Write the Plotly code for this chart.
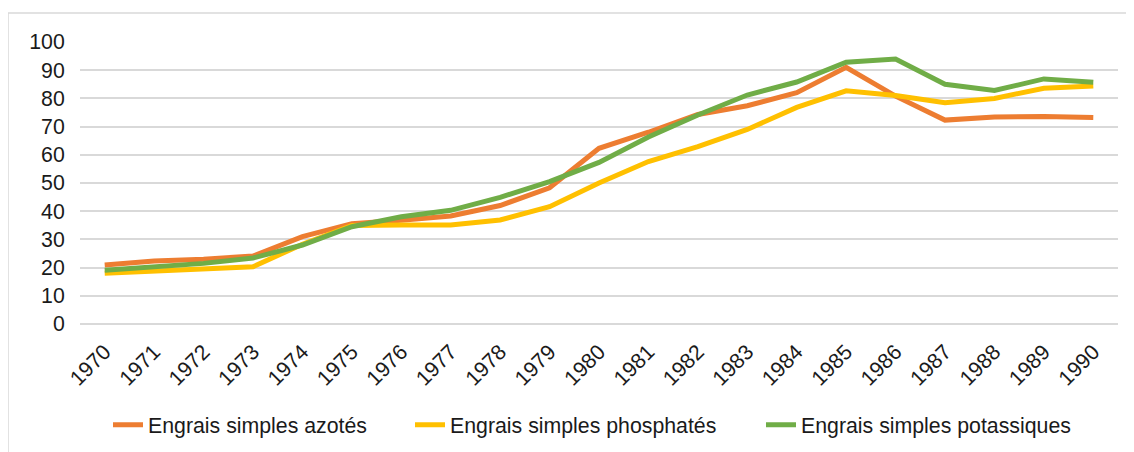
import plotly.graph_objects as go

years = [str(y) for y in range(1970, 1991)]
azotes = [20.9, 22.3, 23.0, 24.1, 31.0, 35.6, 36.8, 38.3, 42.0, 48.3, 62.3, 68.0, 74.3, 77.4, 82.0, 91.0, 80.8, 72.3, 73.4, 73.6, 73.2]
phosphates = [18.0, 18.8, 19.5, 20.3, 28.3, 34.9, 35.1, 35.1, 36.9, 41.6, 50.0, 57.6, 62.9, 69.0, 76.8, 82.7, 81.0, 78.5, 80.0, 83.6, 84.4]
potassiques = [19.1, 20.3, 21.5, 23.4, 28.0, 34.5, 38.0, 40.3, 44.9, 50.5, 57.3, 66.3, 74.1, 81.2, 85.8, 92.8, 94.0, 85.0, 82.8, 86.9, 85.7]
y_ticks = [0, 10, 20, 30, 40, 50, 60, 70, 80, 90, 100]

# page body has an 8px default margin, so compensate
OFF = 8
W, H = 1134, 452

series = [
    ("Engrais simples azotés", azotes, "#ED7D31", "legend", 100),
    ("Engrais simples phosphatés", phosphates, "#FFC000", "legend2", 402),
    ("Engrais simples potassiques", potassiques, "#70AD47", "legend3", 753),
]

FS = 21.3
font_family = "Liberation Sans, Arial, sans-serif"

fig = go.Figure()
legends = {}
for name, vals, col, leg, lx in series:
    fig.add_trace(go.Scatter(x=years, y=vals, name=name, mode="lines", legend=leg,
                             line=dict(color=col, width=5)))
    legends[leg] = dict(orientation="h", xref="container", yref="container",
                        x=lx / W, xanchor="left", y=1 - (425 - OFF) / H, yanchor="middle",
                        font=dict(size=FS), bgcolor="rgba(0,0,0,0)")

ml, mr, mt, mb = 80 - OFF, W - 1118 + OFF, 42 - OFF, H - 324 + OFF
pw, ph = W - ml - mr, H - mt - mb

fig.update_layout(
    width=W, height=H,
    margin=dict(l=ml, r=mr, t=mt, b=mb),
    paper_bgcolor="white", plot_bgcolor="white",
    font=dict(family=font_family, size=FS, color="#1a1a1a"),
    showlegend=True,
    xaxis=dict(type="category", range=[-0.5, 20.5], tickangle=-45, showgrid=False,
               showline=False, zeroline=False, ticks="outside", ticklen=6,
               tickcolor="rgba(0,0,0,0)", tickfont=dict(size=FS), automargin=False),
    yaxis=dict(range=[0, 100], tickvals=y_ticks, showgrid=True, gridcolor="#d9d9d9",
               gridwidth=1.5, zeroline=True, zerolinecolor="#d9d9d9", zerolinewidth=1.5,
               showline=False, ticks="outside", ticklen=10, tickcolor="rgba(0,0,0,0)",
               tickfont=dict(size=FS), automargin=False),
    shapes=[dict(type="rect", xref="paper", yref="paper",
                 x0=(8 - 80) / pw, x1=1.3,
                 y0=-0.8, y1=(324 - 13) / ph,
                 line=dict(color="#d9d9d9", width=1.5),
                 fillcolor="rgba(0,0,0,0)", layer="below")],
    **legends,
)

fig.write_html("out.html")
